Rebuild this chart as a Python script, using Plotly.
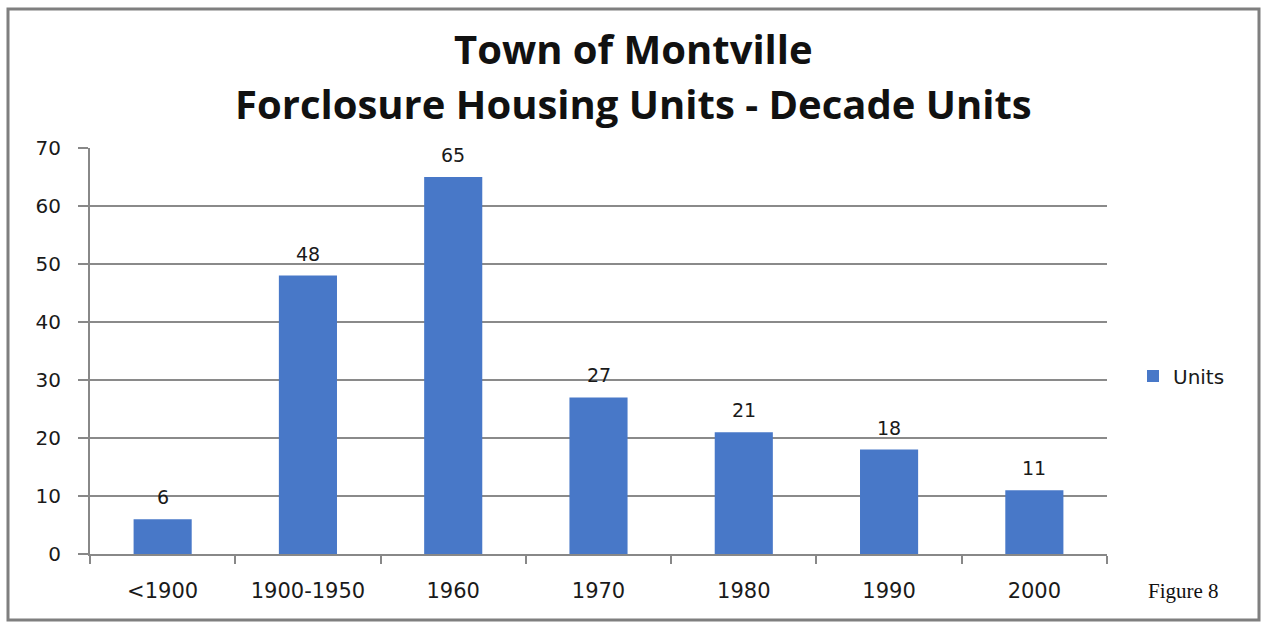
import plotly.graph_objects as go

categories = ["<1900", "1900-1950", "1960", "1970", "1980", "1990", "2000"]
units = [6, 48, 65, 27, 21, 18, 11]
y_ticks = [0, 10, 20, 30, 40, 50, 60, 70]

W, H = 1264, 624
L, R, T, B = 90, 157, 148, 70
pw, ph = W - L - R, H - T - B

def px_x(x):
    return (x - L) / pw

def px_y(y):
    return (H - B - y) / ph

FONT = "DejaVu Sans"
TXT = "#1a1a1a"

fig = go.Figure()
fig.add_trace(go.Bar(
    x=categories, y=units, name="Units",
    marker=dict(color="#4878c8", line=dict(width=0)),
))

# value labels above bars (category index positions on the category axis)
for i, v in enumerate(units):
    fig.add_annotation(x=i, y=v, text=str(v), showarrow=False,
                       xanchor="center", yanchor="bottom", yshift=9,
                       font=dict(family=FONT, size=19, color=TXT))

fig.update_layout(
    width=W, height=H,
    margin=dict(l=L, r=R, t=T, b=B, autoexpand=False),
    paper_bgcolor="white", plot_bgcolor="white",
    bargap=0.6,
    showlegend=True,
    legend=dict(x=px_x(1133), y=px_y(376), xanchor="left", yanchor="middle",
                font=dict(family=FONT, size=20, color=TXT),
                itemwidth=30, bgcolor="rgba(0,0,0,0)"),
    font=dict(family=FONT, size=20, color=TXT),
)

# title lines
fig.add_annotation(text="<b>Town of Montville</b>", xref="paper", yref="paper",
                   x=px_x(633), y=px_y(49), xanchor="center", yanchor="middle",
                   showarrow=False, font=dict(family="Open Sans", size=40, color="#111111"))
fig.add_annotation(text="<b>Forclosure Housing Units - Decade Units</b>", xref="paper", yref="paper",
                   x=px_x(633), y=px_y(103), xanchor="center", yanchor="middle",
                   showarrow=False, font=dict(family="Open Sans", size=40, color="#111111"))

fig.update_xaxes(
    type="category", range=[-0.5, len(categories) - 0.5],
    showline=True, linecolor="#888888", linewidth=2,
    ticks="outside", tickson="boundaries", ticklen=8, tickcolor="#888888", tickwidth=2,
    showgrid=False, ticklabelstandoff=17, tickangle=0,
    tickfont=dict(family=FONT, size=21, color=TXT),
)
fig.update_yaxes(
    range=[0, 70], tickvals=y_ticks, showline=True, linecolor="#888888", linewidth=2,
    ticks="outside", ticklen=10, tickcolor="#888888", tickwidth=2,
    showgrid=True, gridcolor="#8a8a8a", gridwidth=1.5, zeroline=False,
    tickfont=dict(family=FONT, size=20, color=TXT), ticklabelstandoff=13,
)

# outer frame
fig.add_shape(type="rect", xref="paper", yref="paper",
              x0=px_x(8), x1=px_x(1259), y0=px_y(620), y1=px_y(9),
              line=dict(color="#7f7f7f", width=3), fillcolor="rgba(0,0,0,0)", layer="below")

fig.add_annotation(text="Figure 8", xref="paper", yref="paper",
                   x=px_x(1221), y=px_y(591), xanchor="right", yanchor="middle",
                   showarrow=False, font=dict(family="Liberation Serif", size=21, color="#111111"))

fig.write_html("out.html", config={"displayModeBar": False},
               post_script="document.body.style.margin='0';")
